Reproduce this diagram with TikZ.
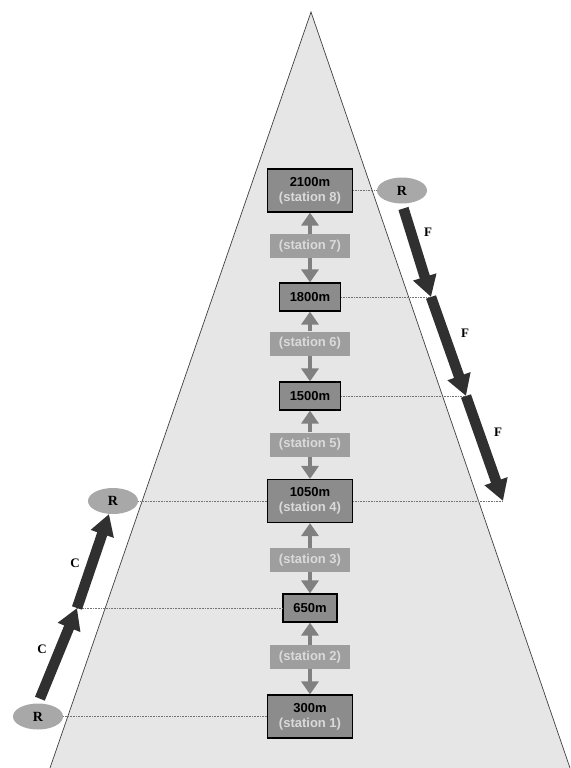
\documentclass[tikz,border=0pt]{standalone}
\usepackage{fontspec}
\setmainfont{Liberation Sans}
\newfontfamily\serifb{Liberation Serif}
\usetikzlibrary{arrows.meta,shapes.geometric}
\definecolor{bgtri}{RGB}{230,230,230}
\definecolor{boxfill}{RGB}{140,140,140}
\definecolor{stfill}{RGB}{158,158,158}
\definecolor{sttxt}{RGB}{218,218,218}
\definecolor{arrgray}{RGB}{128,128,128}
\definecolor{ellfill}{RGB}{168,168,168}
\definecolor{darkarr}{RGB}{48,48,48}
\tikzset{
  bigbox/.style={draw=black, line width=1.2pt, fill=boxfill, minimum width=85pt, minimum height=43pt, inner sep=0pt, align=center, font=\fontsize{13}{15}\selectfont\bfseries},
  smallbox/.style={draw=black, line width=1.2pt, fill=boxfill, minimum height=28pt, inner sep=0pt, font=\fontsize{13}{15}\selectfont\bfseries},
  stlabel/.style={fill=stfill, minimum width=80pt, minimum height=24pt, inner sep=0pt, text=sttxt, font=\fontsize{13}{15}\selectfont\bfseries},
  rell/.style={ellipse, fill=ellfill, minimum width=50pt, minimum height=26pt, inner sep=0pt, font=\fontsize{14}{16}\selectfont\serifb\bfseries},
  varrow/.style={draw=arrgray, line width=4.5pt, -{Triangle[width=17pt,length=13pt]}},
  thickarr/.style={draw=darkarr, line width=10.5pt, -{Triangle[width=23pt,length=21pt]}},
  dotline/.style={draw=black!55, densely dotted, line width=0.6pt},
  lbl/.style={font=\fontsize{13}{15}\selectfont\serifb\bfseries, inner sep=0pt}
}
\begin{document}
\begin{tikzpicture}[x=1pt,y=-1pt]
\useasboundingbox (0,0) rectangle (570,768);
\fill[white] (0,0) rectangle (570,768);
\fill[bgtri] (311,12) -- (50,768) -- (570,768) -- cycle;
\draw[black!75, line width=0.7pt] (50,768) -- (311,12) -- (570,768);

% stations
\node[bigbox] (s8) at (310,190.5) {2100m\\{\color{sttxt}(station 8)}};
\node[stlabel] (s7) at (310,246) {(station 7)};
\node[smallbox, minimum width=61pt] (s6) at (310,297) {1800m};
\node[stlabel] (s6l) at (310,343.5) {(station 6)};
\node[smallbox, minimum width=61pt] (s5) at (310,396) {1500m};
\node[stlabel] (s5l) at (310,444.5) {(station 5)};
\node[bigbox] (s4) at (310,501) {1050m\\{\color{sttxt}(station 4)}};
\node[stlabel] (s3) at (310,560) {(station 3)};
\node[smallbox, minimum width=54pt] (s2) at (310,608) {650m};
\node[stlabel] (s2l) at (310,657) {(station 2)};
\node[bigbox] (s1) at (310,716.5) {300m\\{\color{sttxt}(station 1)}};

% vertical arrows
\draw[varrow] (s7.north) -- (s8.south);
\draw[varrow] (s7.south) -- (s6.north);
\draw[varrow] (s6l.north) -- (s6.south);
\draw[varrow] (s6l.south) -- (s5.north);
\draw[varrow] (s5l.north) -- (s5.south);
\draw[varrow] (s5l.south) -- (s4.north);
\draw[varrow] (s3.north) -- (s4.south);
\draw[varrow] (s3.south) -- (s2.north);
\draw[varrow] (s2l.north) -- (s2.south);
\draw[varrow] (s2l.south) -- (s1.north);

% R ellipses
\node[rell] (rT) at (402,190.5) {R};
\node[rell] (rL) at (113,501) {R};
\node[rell] (rB) at (38,716.5) {R};

% junction coordinates
\coordinate (f1) at (431,297);
\coordinate (f2) at (466,396);
\coordinate (f3) at (503,501);
\coordinate (c1) at (77,608);
\coordinate (c2) at (109,514);

% dotted lines
\draw[dotline] (s8.east) -- (rT.west);
\draw[dotline] (s6.east) -- (f1);
\draw[dotline] (s5.east) -- (f2);
\draw[dotline] (s4.east) -- (f3);
\draw[dotline] (s4.west) -- (rL.east);
\draw[dotline] (s2.west) -- (c1);
\draw[dotline] (s1.west) -- (rB.east);

% F arrows
\draw[thickarr, shorten <=5pt] (rT.south) -- (f1);
\draw[thickarr] (f1) -- (f2);
\draw[thickarr] (f2) -- (f3);
\node[lbl] (F1) at (428,232) {F};
\node[lbl] (F2) at (465,333) {F};
\node[lbl] (F3) at (498,432) {F};

% C arrows
\draw[thickarr, shorten <=5pt] (rB.north) -- (c1);
\draw[thickarr] (c1) -- (c2);
\node[lbl] (C1) at (42,649) {C};
\node[lbl] (C2) at (75,563) {C};
\end{tikzpicture}
\end{document}
